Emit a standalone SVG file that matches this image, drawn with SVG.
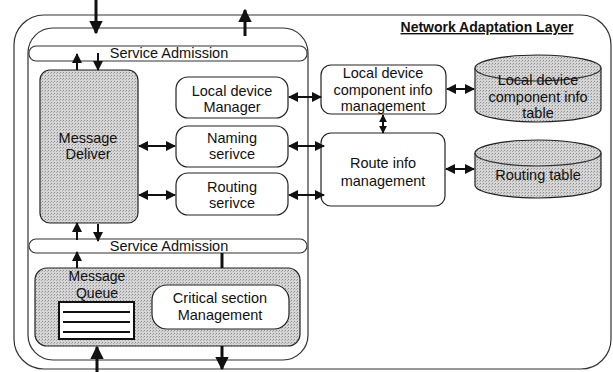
<svg xmlns="http://www.w3.org/2000/svg" width="613" height="372" viewBox="0 0 613 372">
  <defs>
    <marker id="head" viewBox="0 0 10 10" refX="9" refY="5" markerWidth="5" markerHeight="5" orient="auto-start-reverse" markerUnits="strokeWidth">
      <path d="M0,0 L10,5 L0,10 z" fill="#111"/>
    </marker>
    <marker id="smallhead" viewBox="0 0 10 10" refX="9" refY="5" markerWidth="4" markerHeight="4" orient="auto-start-reverse" markerUnits="strokeWidth">
      <path d="M0,0 L10,5 L0,10 z" fill="#111"/>
    </marker>
    <marker id="bighead" viewBox="0 0 10 10" refX="9" refY="5" markerWidth="4.5" markerHeight="4.5" orient="auto-start-reverse" markerUnits="strokeWidth">
      <path d="M0,0 L10,5 L0,10 z" fill="#111"/>
    </marker>
    <pattern id="stipple" width="3" height="3" patternUnits="userSpaceOnUse">
      <rect width="3" height="3" fill="#d6d6d6"/>
      <rect width="1" height="1" fill="#8c8c8c"/>
      <rect x="2" y="1" width="1" height="1" fill="#ababab"/>
    </pattern>
  </defs>
  <style>
    text { font-family: "Liberation Sans", Arial, sans-serif; font-size: 14.5px; fill: #111; text-anchor: middle; }
    .title { font-size: 14px; font-weight: bold; text-decoration: underline; }
    .tight { font-size: 14px; }
    .frame { fill: none; stroke: #333; stroke-width: 1.2; }
    .box { fill: #fff; stroke: #222; stroke-width: 1.2; }
    .shaded { fill: url(#stipple); stroke: #222; stroke-width: 1.2; }
    .bar { fill: #fff; stroke: #333; stroke-width: 1.1; }
    .link { stroke: #111; stroke-width: 2; fill: none; marker-start: url(#head); marker-end: url(#head); }
    .short { stroke: #111; stroke-width: 2; fill: none; marker-start: url(#smallhead); marker-end: url(#smallhead); }
    .one { stroke: #111; stroke-width: 2; fill: none; marker-end: url(#head); }
    .io { stroke: #111; stroke-width: 3; fill: none; marker-end: url(#bighead); }
  </style>

  <!-- layer frames -->
  <g id="network-adaptation-layer">
    <rect class="frame" x="14" y="15" width="597" height="354" rx="30"/>
    <text class="title" x="487" y="32">Network Adaptation Layer</text>
  </g>
  <g id="service-container">
    <rect class="frame" x="28" y="28" width="280" height="332" rx="25"/>
  </g>

  <g id="service-admission-top">
    <rect class="bar" x="29" y="46" width="278" height="15" rx="7"/>
    <text x="169" y="58">Service Admission</text>
  </g>
  <g id="service-admission-bottom">
    <rect class="bar" x="29" y="239" width="278" height="14" rx="7"/>
    <text x="169" y="251">Service Admission</text>
  </g>

  <g id="message-deliver">
    <rect class="shaded" x="40" y="70" width="98" height="153" rx="10"/>
    <text x="88" y="143">Message</text>
    <text x="88" y="159">Deliver</text>
  </g>

  <g id="local-device-manager">
    <rect class="box" x="176" y="77" width="112" height="41" rx="12"/>
    <text x="232" y="96">Local device</text>
    <text x="232" y="112">Manager</text>
  </g>
  <g id="naming-service">
    <rect class="box" x="176" y="126" width="112" height="41" rx="12"/>
    <text x="232" y="143">Naming</text>
    <text x="232" y="159">serivce</text>
  </g>
  <g id="routing-service">
    <rect class="box" x="176" y="173" width="112" height="42" rx="12"/>
    <text x="232" y="192">Routing</text>
    <text x="232" y="208">serivce</text>
  </g>

  <g id="local-device-component-info-management">
    <rect class="box" x="321" y="65" width="125" height="49" rx="10"/>
    <text x="383" y="78">Local device</text>
    <text x="383" y="95">component info</text>
    <text x="383" y="111">management</text>
  </g>
  <g id="route-info-management">
    <rect class="box" x="321" y="133" width="124" height="73" rx="10"/>
    <text x="383" y="168">Route info</text>
    <text x="383" y="186">management</text>
  </g>

  <g id="local-device-component-info-table">
    <path class="shaded" d="M475,68 A63,13 0 0 1 601,68 L601,109 A63,13 0 0 1 475,109 Z"/>
    <path class="frame" d="M475,68 A63,13 0 0 0 601,68"/>
    <text x="538" y="85">Local device</text>
    <text x="538" y="102">component info</text>
    <text x="538" y="118">table</text>
  </g>
  <g id="routing-table">
    <path class="shaded" d="M475,153 A63,13 0 0 1 601,153 L601,185 A63,13 0 0 1 475,185 Z"/>
    <path class="frame" d="M475,153 A63,13 0 0 0 601,153"/>
    <text x="538" y="180">Routing table</text>
  </g>

  <g id="message-queue">
    <rect class="shaded" x="35" y="268" width="265" height="78" rx="12"/>
    <text class="tight" x="97" y="281">Message</text>
    <text class="tight" x="97" y="298">Queue</text>
    <rect x="59" y="302" width="75" height="37" fill="#fff" stroke="#111" stroke-width="2"/>
    <g stroke="#111" stroke-width="2">
      <line x1="63" y1="312" x2="130" y2="312"/>
      <line x1="63" y1="322" x2="130" y2="322"/>
      <line x1="63" y1="332" x2="130" y2="332"/>
    </g>
  </g>
  <g id="critical-section-management">
    <rect class="box" x="152" y="285" width="137" height="44" rx="15"/>
    <text x="220" y="303">Critical section</text>
    <text x="220" y="320">Management</text>
  </g>

  <g id="connectors">
    <!-- external in/out -->
    <line class="io" x1="96" y1="0" x2="96" y2="33"/>
    <line class="io" x1="245" y1="36" x2="245" y2="10"/>
    <line class="io" x1="97" y1="372" x2="97" y2="347"/>
    <line class="io" x1="222" y1="346" x2="222" y2="369"/>
    <!-- admission to deliver -->
    <line class="one" x1="77" y1="70" x2="77" y2="54"/>
    <line class="one" x1="98" y1="53" x2="98" y2="70"/>
    <line class="one" x1="77" y1="240" x2="77" y2="223"/>
    <line class="one" x1="98" y1="224" x2="98" y2="241"/>
    <line class="one" x1="77" y1="268" x2="77" y2="252"/>
    <line x1="222" y1="253" x2="222" y2="268" stroke="#111" stroke-width="3"/>
    <!-- deliver to services -->
    <line class="link" x1="139" y1="146" x2="175" y2="146"/>
    <line class="link" x1="139" y1="195" x2="175" y2="195"/>
    <!-- services to management -->
    <line class="link" x1="289" y1="97" x2="321" y2="97"/>
    <line class="link" x1="289" y1="146" x2="324" y2="146"/>
    <line class="link" x1="289" y1="195" x2="324" y2="195"/>
    <line class="short" x1="383" y1="115" x2="383" y2="133"/>
    <!-- management to tables -->
    <line class="link" x1="447" y1="89" x2="474" y2="89"/>
    <line class="link" x1="446" y1="169" x2="474" y2="169"/>
  </g>
</svg>
